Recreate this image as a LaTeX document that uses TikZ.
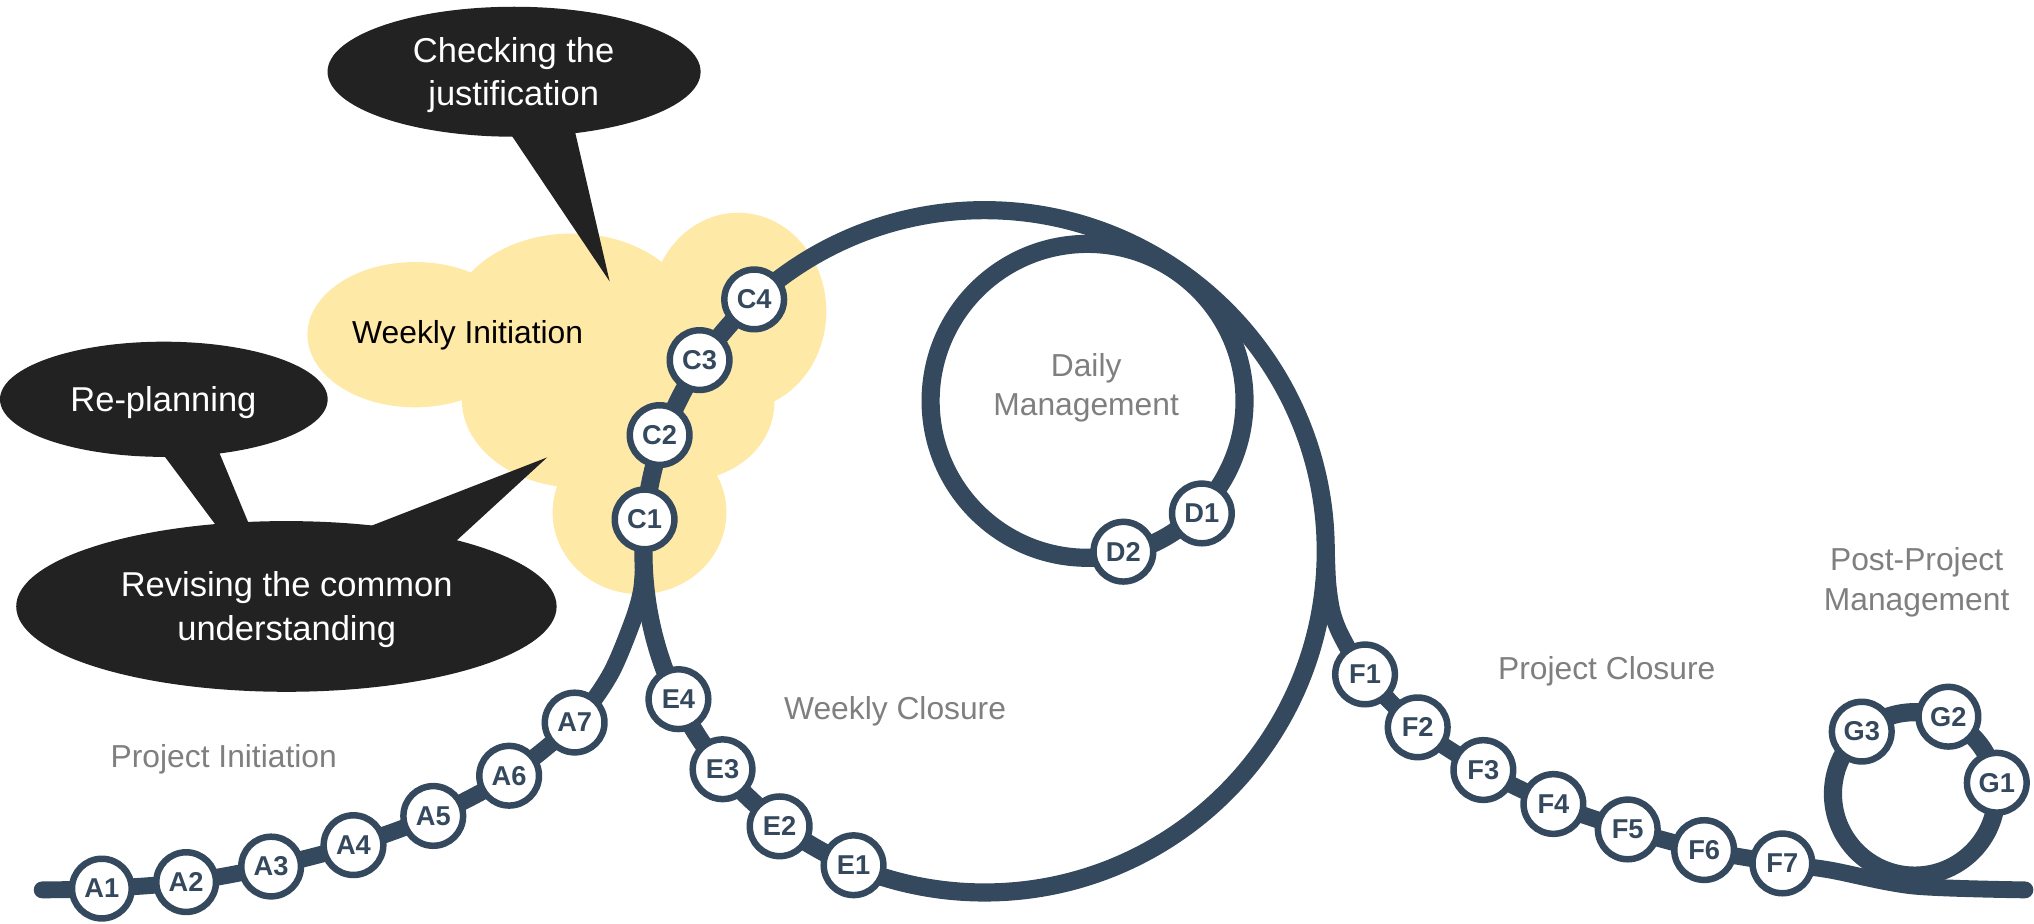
\documentclass[tikz,border=0pt]{standalone}
\usepackage{fontspec}
\setmainfont{Liberation Sans}
\definecolor{trk}{HTML}{34495E}
\definecolor{cloudc}{HTML}{FFE9A6}
\definecolor{bub}{HTML}{222222}
\definecolor{lbl}{HTML}{7F7F7F}
\pgfdeclarelayer{lcloud}
\pgfdeclarelayer{ltrack}
\pgfsetlayers{lcloud,ltrack,main}
\begin{document}
\begin{tikzpicture}[x=1pt,y=-1pt,
  stn/.style={circle, draw=trk, line width=5pt, fill=white, minimum size=46pt, inner sep=0pt,
    font=\fontsize{21}{21}\selectfont\bfseries, text=trk},
  lab/.style={text=lbl, font=\fontsize{24.5}{30.5}\selectfont, align=center, inner sep=0pt},
  btxt/.style={text=white, font=\fontsize{26.6}{33.5}\selectfont, align=center, inner sep=0pt},
  rail/.style={draw=trk, line width=14pt, line cap=round, line join=round},
  chain/.style={draw=trk, line width=13pt, line cap=round, line join=round}]

\useasboundingbox (0,0) rectangle (1568,712.3);

% ---------- stations ----------
\node[stn] (A1) at (78.5,685) {A1};
\node[stn] (A2) at (143.5,680) {A2};
\node[stn] (A3) at (209,668) {A3};
\node[stn] (A4) at (272.5,651.5) {A4};
\node[stn] (A5) at (334,629) {A5};
\node[stn] (A6) at (392.5,598) {A6};
\node[stn] (A7) at (443,557) {A7};
\node[stn] (C1) at (496.9,400.4) {C1};
\node[stn] (C2) at (508.5,335.4) {C2};
\node[stn] (C3) at (539.3,277.6) {C3};
\node[stn] (C4) at (581.4,230.8) {C4};
\node[stn] (E4) at (523,539) {E4};
\node[stn] (E3) at (557,593) {E3};
\node[stn] (E2) at (601,637) {E2};
\node[stn] (E1) at (658,667) {E1};
\node[stn] (D1) at (926.5,395.8) {D1};
\node[stn] (D2) at (866,425.3) {D2};
\node[stn] (F1) at (1052.3,519.9) {F1};
\node[stn] (F2) at (1092.9,560.7) {F2};
\node[stn] (F3) at (1143.5,593.6) {F3};
\node[stn] (F4) at (1197.5,619.8) {F4};
\node[stn] (F5) at (1254.8,639.4) {F5};
\node[stn] (F6) at (1313.7,655.3) {F6};
\node[stn] (F7) at (1374,665.6) {F7};
\node[stn] (G1) at (1539.3,603.4) {G1};
\node[stn] (G2) at (1502,552.5) {G2};
\node[stn] (G3) at (1435.2,564) {G3};

% ---------- free track points ----------
\coordinate (tstart) at (32.5,686);
\coordinate (tend) at (1561,686);
\coordinate (am1) at (470,520.7);
\coordinate (am2) at (487.5,479.6);
\coordinate (am3) at (494.5,455);
\coordinate (am4) at (496.3,430);
\coordinate (fm1) at (1022.5,425);
\coordinate (fm2) at (1023.6,450);
\coordinate (fm3) at (1027,472);
\coordinate (fm4) at (1034.4,491);
\coordinate (gm1) at (1410.8,670.7);
\coordinate (gm2) at (1475,683);
\coordinate (bigc) at (759,425);
\coordinate (dayc) at (838.4,309);
\coordinate (postc) at (1476,612);

% ---------- cloud and bubbles ----------
\begin{pgfonlayer}{lcloud}
  \fill[cloudc] (320,258) ellipse[x radius=83pt, y radius=56pt];
  \fill[cloudc] (441,250) ellipse[x radius=95pt, y radius=70pt];
  \fill[cloudc] (569,240) ellipse[x radius=68pt, y radius=76pt];
  \fill[cloudc] (530,310) ellipse[x radius=67pt, y radius=60pt];
  \fill[cloudc] (493,395) ellipse[x radius=67pt, y radius=63pt];
  \fill[cloudc] (446,308) ellipse[x radius=90pt, y radius=68pt];
  \fill[cloudc] (480,300) ellipse[x radius=80pt, y radius=80pt];

  \fill[bub] (378,80) -- (438.3,80) -- (470,217) -- cycle;
  \fill[bub] (396.3,55.3) ellipse[x radius=143.8pt, y radius=50.1pt];
  \fill[bub] (110.6,330) -- (161.2,330) -- (224.7,483) -- cycle;
  \fill[bub] (126.3,307.8) ellipse[x radius=126.3pt, y radius=44.4pt];
  \fill[bub] (250,419.4) -- (331.6,435.4) -- (421.8,352.6) -- cycle;
  \fill[bub] (220.8,467.5) ellipse[x radius=208.3pt, y radius=65.8pt];
\end{pgfonlayer}

% ---------- track ----------
\begin{pgfonlayer}{ltrack}
  \draw[rail] (bigc) circle[radius=263pt];
  \draw[rail] (dayc) circle[radius=121pt];
  \draw[rail] (postc) circle[radius=63pt];
  \draw[chain] plot[smooth] coordinates {(tstart) (A1.center) (A2.center) (A3.center) (A4.center)
     (A5.center) (A6.center) (A7.center) (am1) (am2) (am3) (am4)};
  \draw[chain] plot[smooth] coordinates {(fm1) (fm2) (fm3) (fm4) (F1.center) (F2.center)
     (F3.center) (F4.center) (F5.center) (F6.center) (F7.center) (gm1) (gm2) (tend)};
\end{pgfonlayer}

% ---------- texts ----------
\node[btxt] (tcheck) at (396,58) {Checking the\\justification};
\node[btxt] (treplan) at (126,310) {Re-planning};
\node[btxt] (trevise) at (221,470) {Revising the common\\understanding};
\node[lab, text=black] (twinit) at (360.5,258.3) {Weekly Initiation};
\node[lab] (tpinit) at (172.5,585) {Project Initiation};
\node[lab] (twclos) at (690,548) {Weekly Closure};
\node[lab] (tdaily) at (837.3,299) {Daily\\Management};
\node[lab] (tpost) at (1477.5,449) {Post-Project\\Management};
\node[lab] (tpclos) at (1238.6,517.8) {Project Closure};
\end{tikzpicture}
\end{document}
